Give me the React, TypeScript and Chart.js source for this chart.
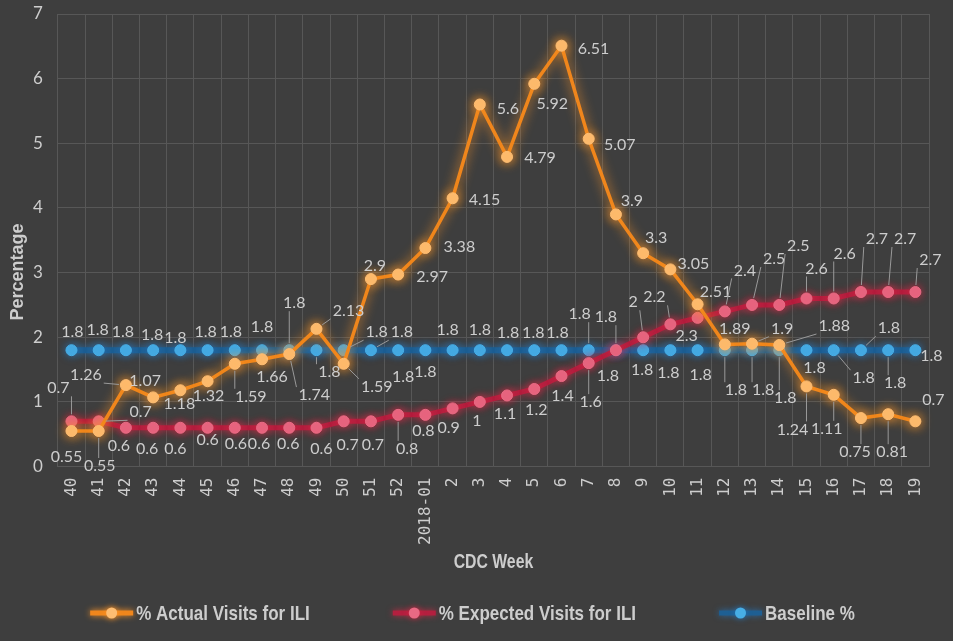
import React, { useEffect, useRef } from "react";
import { Chart, registerables } from "chart.js";

Chart.register(...registerables);

// ---------- data ----------
const weeks = [
  "40", "41", "42", "43", "44", "45", "46", "47", "48", "49", "50", "51", "52",
  "2018-01", "2", "3", "4", "5", "6", "7", "8", "9", "10", "11", "12", "13",
  "14", "15", "16", "17", "18", "19",
];

const actualVisits = [
  0.55, 0.55, 1.26, 1.07, 1.18, 1.32, 1.59, 1.66, 1.74, 2.13, 1.59, 2.9, 2.97,
  3.38, 4.15, 5.6, 4.79, 5.92, 6.51, 5.07, 3.9, 3.3, 3.05, 2.51, 1.89, 1.9,
  1.88, 1.24, 1.11, 0.75, 0.81, 0.7,
];

const expectedVisits = [
  0.7, 0.7, 0.6, 0.6, 0.6, 0.6, 0.6, 0.6, 0.6, 0.6, 0.7, 0.7, 0.8,
  0.8, 0.9, 1, 1.1, 1.2, 1.4, 1.6, 1.8, 2, 2.2, 2.3, 2.4, 2.5,
  2.5, 2.6, 2.6, 2.7, 2.7, 2.7,
];

const baselinePct = [
  1.8, 1.8, 1.8, 1.8, 1.8, 1.8, 1.8, 1.8, 1.8, 1.8, 1.8, 1.8, 1.8,
  1.8, 1.8, 1.8, 1.8, 1.8, 1.8, 1.8, 1.8, 1.8, 1.8, 1.8, 1.8, 1.8,
  1.8, 1.8, 1.8, 1.8, 1.8, 1.8,
];

const seriesNames = ["% Actual Visits for ILI", "% Expected Visits for ILI", "Baseline %"];
const yMin = 0;
const yMax = 7;
const yStep = 1;
const xTitle = "CDC Week";
const yTitle = "Percentage";

// ---------- label placement (relative offsets in px, leader flag) ----------
type Off = [number, number, number];
const actualLabelOffsets: Off[] = [
  [-5, 26, 0], [1, 35, 1], [-40, -10, 1], [-8, -17, 0], [-1, 14, 0], [1, 15, 0],
  [16, 33, 1], [10, 18, 0], [25, 41, 1], [32, -18, 1], [33, 23, 1], [4, -13, 0],
  [34, 2, 0], [34, -1, 0], [32, 2, 0], [28, 4, 0], [33, 1, 0], [18, 20, 0],
  [32, 3, 0], [31, 6, 0], [16, -14, 0], [13, -15, 0], [23, -6, 0], [18, -12, 0],
  [10, -16, 0], [30, -15, 1], [55, -19, 1], [-14, 43, 1], [-7, 34, 1], [-6, 34, 1],
  [4, 38, 1], [18, -21, 0],
];
const expectedLabelOffsets: Off[] = [
  [-13, -33, 1], [42, -9, 1], [-7, 18, 0], [-6, 21, 0], [-5, 21, 0], [0, 12, 0],
  [1, 16, 0], [-3, 16, 0], [-1, 16, 0], [5, 21, 0], [4, 24, 0], [2, 24, 0],
  [9, 34, 1], [-2, 16, 0], [-4, 19, 0], [-3, 19, 0], [-2, 18, 0], [2, 21, 0],
  [1, 20, 0], [2, 39, 1], [-8, 26, 0], [-10, -35, 1], [-16, -27, 1], [-11, 18, 0],
  [20, -41, 1], [22, -46, 1], [19, -59, 1], [10, -30, 1], [11, -45, 1], [16, -53, 1],
  [17, -53, 1], [15, -32, 1],
];
const baselineLabelOffsets: Off[] = [
  [1, -18, 0], [-1, -20, 0], [-3, -18, 0], [-1, -15, 0], [-5, -12, 0], [-2, -18, 0],
  [-4, -18, 0], [0, -23, 0], [5, -47, 1], [13, 22, 1], [33, -18, 1], [31, -18, 1],
  [5, 27, 0], [0, 22, 0], [-5, -20, 0], [0, -20, 0], [1, -17, 0], [-1, -17, 0],
  [-4, -17, 0], [-9, -36, 1], [-10, -33, 1], [-1, 20, 0], [-2, 23, 0], [3, 25, 0],
  [11, 40, 1], [11, 40, 1], [6, 48, 1], [8, 18, 0], [30, 28, 1], [28, -22, 1],
  [7, 33, 1], [16, 6, 0],
];
const labelOffsets = [actualLabelOffsets, expectedLabelOffsets, baselineLabelOffsets];

// ---------- styles ----------
const BG = "#3e3e3e";
const GRID = "#575757";
const TEXT = "#cdcdcd";
const LABEL_FONT = "16px Lato, 'Open Sans', sans-serif";
const CONDENSED_BOLD = "bold 21px 'Liberation Sans', Arial, sans-serif";
const CONDENSE = 0.81;
const TITLE_FONT = "bold 20px 'Liberation Sans', Arial, sans-serif";
const TITLE_CONDENSE = 0.79;

const styles = [
  { line: "#f0861c", point: "#fdbd72", glow: "rgba(255,150,40,1)", width: 3.5, blur: 12 },
  { line: "#b41f3f", point: "#e86a84", glow: "rgba(220,40,70,0.8)", width: 5, blur: 9 },
  { line: "#1e5f93", point: "#47aee6", glow: "rgba(40,120,190,0.8)", width: 6, blur: 9 },
];

const glowPlugin = {
  id: "glow",
  beforeDatasetDraw(chart: any, args: any) {
    const ctx = chart.ctx;
    ctx.save();
    ctx.shadowColor = styles[args.index].glow;
    ctx.shadowBlur = styles[args.index].blur;
  },
  afterDatasetDraw(chart: any) {
    chart.ctx.restore();
  },
};

const dataLabelPlugin = {
  id: "pointLabels",
  afterDatasetsDraw(chart: any) {
    const ctx = chart.ctx;
    ctx.save();
    ctx.font = LABEL_FONT;
    ctx.textAlign = "center";
    ctx.textBaseline = "middle";
    chart.data.datasets.forEach((ds: any, d: number) => {
      const meta = chart.getDatasetMeta(d);
      meta.data.forEach((pt: any, i: number) => {
        const off = labelOffsets[d][i];
        const text = String(ds.data[i]);
        const lx = pt.x + off[0];
        const ly = pt.y + off[1];
        if (off[2]) {
          const w = ctx.measureText(text).width / 2 + 2;
          const h = 8;
          const nx = Math.max(lx - w, Math.min(pt.x, lx + w));
          const ny = Math.max(ly - h, Math.min(pt.y, ly + h));
          const dx = nx - pt.x;
          const dy = ny - pt.y;
          const len = Math.hypot(dx, dy);
          if (len > 9) {
            ctx.strokeStyle = "#9a9a9a";
            ctx.lineWidth = 1;
            ctx.beginPath();
            ctx.moveTo(pt.x + (dx / len) * 7, pt.y + (dy / len) * 7);
            ctx.lineTo(nx, ny);
            ctx.stroke();
          }
        }
        ctx.fillStyle = TEXT;
        ctx.fillText(text, lx, ly);
      });
    });
    ctx.restore();
  },
};

function condensedText(
  ctx: any, text: string, x: number, y: number, align: "left" | "center", font: string, k: number,
) {
  ctx.save();
  ctx.font = font;
  ctx.textBaseline = "middle";
  ctx.textAlign = align;
  ctx.translate(x, y);
  ctx.scale(k, 1);
  ctx.fillStyle = TEXT;
  ctx.fillText(text, 0, 0);
  ctx.restore();
}

const titlesAndLegendPlugin = {
  id: "titlesLegend",
  afterDraw(chart: any) {
    const ctx = chart.ctx;
    const area = chart.chartArea;
    // x axis title
    condensedText(ctx, xTitle, (area.left + area.right) / 2, area.bottom + 96, "center", TITLE_FONT, TITLE_CONDENSE);
    // y axis title
    ctx.save();
    ctx.font = "bold 18px 'Liberation Sans', Arial, sans-serif";
    ctx.fillStyle = TEXT;
    ctx.textAlign = "center";
    ctx.textBaseline = "middle";
    ctx.translate(18, area.top + 258);
    ctx.rotate(-Math.PI / 2);
    ctx.fillText(yTitle, 0, 0);
    ctx.restore();
    // legend
    ctx.save();
    ctx.font = CONDENSED_BOLD;
    const markerW = 43;
    const gapText = 3;
    const gapItem = 83;
    const widths = seriesNames.map((n) => ctx.measureText(n).width * CONDENSE);
    ctx.restore();
    const total =
      widths.reduce((a, b) => a + b, 0) + seriesNames.length * (markerW + gapText) + gapItem * (seriesNames.length - 1);
    let x = chart.width / 2 - 4 - total / 2;
    const y = chart.height - 28;
    seriesNames.forEach((name, i) => {
      const st = styles[i];
      ctx.save();
      ctx.shadowColor = st.glow;
      ctx.shadowBlur = 6;
      ctx.strokeStyle = st.line;
      ctx.lineWidth = 5;
      ctx.beginPath();
      ctx.moveTo(x, y);
      ctx.lineTo(x + markerW, y);
      ctx.stroke();
      ctx.fillStyle = st.point;
      ctx.beginPath();
      ctx.arc(x + markerW / 2, y, 5.5, 0, Math.PI * 2);
      ctx.fill();
      ctx.restore();
      condensedText(ctx, name, x + markerW + gapText, y + 1, "left", CONDENSED_BOLD, CONDENSE);
      x += markerW + gapText + widths[i] + gapItem;
    });
  },
};

export default function App() {
  const ref = useRef<HTMLCanvasElement | null>(null);

  useEffect(() => {
    document.body.style.margin = "0";
    const canvas = ref.current;
    if (!canvas) return;
    const series = [actualVisits, expectedVisits, baselinePct];
    const chart = new Chart(canvas, {
      type: "line",
      data: {
        labels: weeks,
        datasets: series.map((values, i) => ({
          label: seriesNames[i],
          data: values,
          borderColor: styles[i].line,
          backgroundColor: styles[i].point,
          borderWidth: styles[i].width,
          pointRadius: 5.5,
          pointBorderWidth: 1,
          pointBorderColor: styles[i].point,
          pointBackgroundColor: styles[i].point,
          tension: 0,
          fill: false,
        })),
      },
      options: {
        responsive: false,
        animation: false,
        devicePixelRatio: 1,
        layout: { padding: { top: 14, right: 24, bottom: 85, left: 18 } },
        plugins: {
          legend: { display: false },
          tooltip: { enabled: false },
          title: { display: false },
        },
        scales: {
          x: {
            type: "category",
            offset: true,
            grid: { color: GRID, lineWidth: 1, offset: true, drawTicks: false },
            border: { color: GRID },
            ticks: {
              color: TEXT,
              font: { family: "'DejaVu Sans Mono', monospace", size: 16 },
              minRotation: 90,
              maxRotation: 90,
              padding: 11,
              autoSkip: false,
            },
          },
          y: {
            min: yMin,
            max: yMax,
            grid: { color: GRID, lineWidth: 1, drawTicks: false },
            border: { display: false },
            afterFit(scale: any) {
              scale.paddingTop = 0;
              scale.paddingBottom = 0;
            },
            ticks: {
              stepSize: yStep,
              color: TEXT,
              font: { family: "Lato, sans-serif", size: 17 },
              padding: 15,
            },
          },
        },
      },
      plugins: [glowPlugin, dataLabelPlugin, titlesAndLegendPlugin],
    });
    return () => chart.destroy();
  }, []);

  return (
    <div style={{ position: "fixed", left: 0, top: 0, width: 953, height: 641, background: BG }}>
      <canvas ref={ref} width={953} height={641} style={{ display: "block", width: 953, height: 641 }} />
    </div>
  );
}
